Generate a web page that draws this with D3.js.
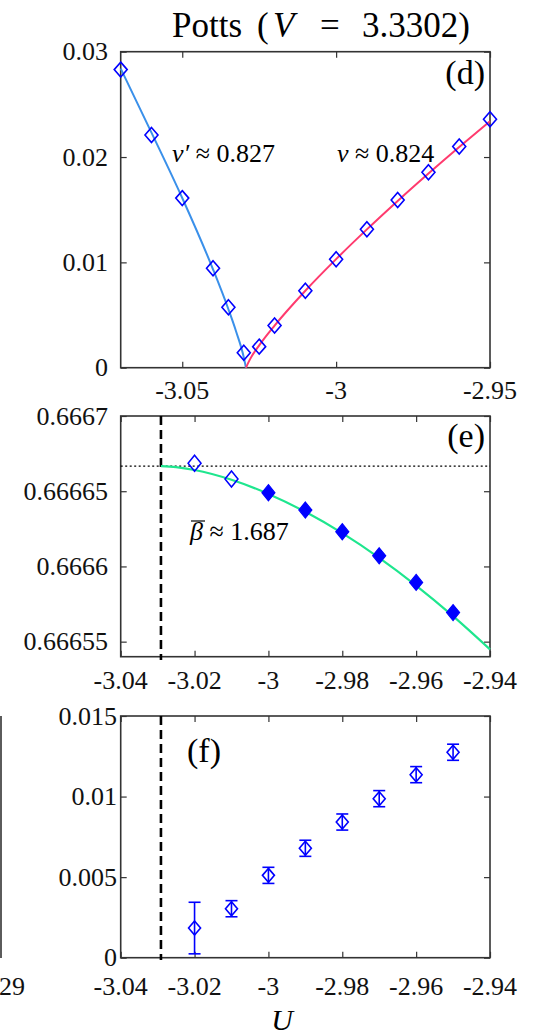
<!DOCTYPE html>
<html><head><meta charset="utf-8">
<script src="https://cdn.jsdelivr.net/npm/d3@7"></script>
<style>body{margin:0;background:#fff}svg{display:block}
svg text{font-family:"Liberation Serif","Times New Roman","DejaVu Serif",serif;}</style>
</head><body>
<script>
// ---------- data ----------
const titleText = "Potts";
const titleVar = "V";
const titleValue = "3.3302";
// panel (d)
const dU_left = [-3.07, -3.06, -3.05, -3.04, -3.035, -3.03];
const dV_left = [0.0283, 0.0221, 0.0161, 0.00944, 0.00574, 0.00142];
const dU_right = [-3.025, -3.02, -3.01, -3.0, -2.99, -2.98, -2.97, -2.96, -2.95];
const dV_right = [0.0020, 0.0040, 0.00731, 0.01029, 0.01314, 0.01593, 0.01855, 0.0210, 0.02359];
const fitLeftU = [-3.07, -3.06, -3.05, -3.04, -3.035, -3.0325, -3.03, -3.0293];
const fitLeftV = [0.0284, 0.02232, 0.01611, 0.00934, 0.00555, 0.00344, 0.00098, 0];
const fitRightU = [-3.0293, -3.028, -3.025, -3.02, -3.01, -3.0, -2.99, -2.98, -2.97, -2.96, -2.95];
const fitRightV = [0, 0.00079, 0.00212, 0.0040, 0.00731, 0.01031, 0.01313, 0.01583, 0.01843, 0.02095, 0.0234];
const dXTicks = [-3.05, -3, -2.95];
const dXLabels = ["-3.05", "-3", "-2.95"];
const dYTicks = [0, 0.01, 0.02, 0.03];
const dYLabels = ["0", "0.01", "0.02", "0.03"];
// panel (e)
const eU_open = [-3.02, -3.01];
const eV_open = [0.6666686, 0.6666581];
const eU_fill = [-3.0, -2.99, -2.98, -2.97, -2.96, -2.95];
const eV_fill = [0.666649, 0.6666375, 0.6666231, 0.6666071, 0.6665894, 0.6665693];
const eFitU = [-3.0291, -3.025, -3.02, -3.01, -3.0, -2.99, -2.98, -2.97, -2.96, -2.95, -2.94];
const eFitV = [0.6666667, 0.666666, 0.6666641, 0.6666576, 0.6666482, 0.6666363, 0.6666221, 0.6666057, 0.6665873, 0.666567, 0.6665449];
const eRef = 0.6666667;
const Uc = -3.0291;
const efXTicks = [-3.04, -3.02, -3.0, -2.98, -2.96, -2.94];
const efXLabels = ["-3.04", "-3.02", "-3", "-2.98", "-2.96", "-2.94"];
const eYTicks = [0.66655, 0.6666, 0.66665, 0.6667];
const eYLabels = ["0.66655", "0.6666", "0.66665", "0.6667"];
// panel (f)
const fU = [-3.02, -3.01, -3.0, -2.99, -2.98, -2.97, -2.96, -2.95];
const fV = [0.00184, 0.00304, 0.00511, 0.00679, 0.00842, 0.00987, 0.01136, 0.01275];
const fErr = [0.0016, 0.0005, 0.0005, 0.0005, 0.0005, 0.0005, 0.0005, 0.0005];
const fYTicks = [0, 0.005, 0.01, 0.015];
const fYLabels = ["0", "0.005", "0.01", "0.015"];

// ---------- drawing ----------
const W = 535, H = 1036;
const svg = d3.select("body").append("svg").attr("width", W).attr("height", H)
  .attr("font-family", "Liberation Serif, Times New Roman, DejaVu Serif, serif");

const X0 = 120.7, X1 = 490;
const FS = 26;
const axisColor = "#333";
const markerBlue = "#0000ff";

function frame(x, y, xt, xl, yt, yl, labelX, xLabelBaseline) {
  const g = svg.append("g");
  const [ya, yb] = y.range();
  const [xa, xb] = x.range();
  g.append("g").attr("transform", `translate(0,${ya})`).call(d3.axisBottom(x).tickValues(xt).tickSize(-6).tickFormat(""));
  g.append("g").attr("transform", `translate(0,${yb})`).call(d3.axisTop(x).tickValues(xt).tickSize(-6).tickFormat(""));
  g.append("g").attr("transform", `translate(${xa},0)`).call(d3.axisLeft(y).tickValues(yt).tickSize(-6).tickFormat(""));
  g.append("g").attr("transform", `translate(${xb},0)`).call(d3.axisRight(y).tickValues(yt).tickSize(-6).tickFormat(""));
  g.selectAll("path.domain").remove();
  g.selectAll("g text").remove();
  g.selectAll(".tick line").attr("stroke", axisColor).attr("stroke-width", 1.2);
  g.append("rect").attr("x", xa).attr("y", yb).attr("width", xb - xa).attr("height", ya - yb)
    .attr("fill", "none").attr("stroke", axisColor).attr("stroke-width", 1.6);
  g.selectAll(null).data(xt).enter().append("text")
    .attr("x", d => x(d)).attr("y", xLabelBaseline).attr("text-anchor", "middle")
    .attr("font-size", FS).attr("fill", "#111").text((d, i) => xl[i]);
  g.selectAll(null).data(yt).enter().append("text")
    .attr("x", labelX).attr("y", d => y(d)).attr("dy", "0.33em").attr("text-anchor", "end")
    .attr("font-size", FS).attr("fill", "#111").text((d, i) => yl[i]);
  return g;
}

function diamond(hw, hh) {
  return `M0,${-hh}L${hw},0L0,${hh}L${-hw},0Z`;
}

// ----- title -----
const tg = svg.append("g").attr("font-size", 35).attr("fill", "#000");
tg.append("text").attr("x", 172).attr("y", 37).text(titleText);
tg.append("text").attr("x", 257).attr("y", 37).text("(");
tg.append("text").attr("x", 273).attr("y", 37).attr("font-style", "italic").text(titleVar);
tg.append("text").attr("x", 320).attr("y", 37).text("=");
tg.append("text").attr("x", 362).attr("y", 37).text(titleValue + ")");

// ----- panel d -----
const xd = d3.scaleLinear().domain([-3.07, -2.95]).range([X0, X1]);
const yd = d3.scaleLinear().domain([0, 0.03]).range([367.7, 51.7]);
frame(xd, yd, dXTicks, dXLabels, dYTicks, dYLabels, 108, 399);
const lineD = d3.line().x(d => xd(d[0])).y(d => yd(d[1])).curve(d3.curveMonotoneX);
svg.append("path").datum(fitLeftU.map((u, i) => [u, fitLeftV[i]])).attr("d", lineD)
  .attr("fill", "none").attr("stroke", "#3a90ea").attr("stroke-width", 2);
svg.append("path").datum(fitRightU.map((u, i) => [u, fitRightV[i]])).attr("d", lineD)
  .attr("fill", "none").attr("stroke", "#ff3a6e").attr("stroke-width", 2);
const dPts = dU_left.map((u, i) => [u, dV_left[i]]).concat(dU_right.map((u, i) => [u, dV_right[i]]));
svg.selectAll(null).data(dPts).enter().append("path")
  .attr("transform", d => `translate(${xd(d[0])},${yd(d[1])})`)
  .attr("d", diamond(6.5, 7.5)).attr("fill", "none").attr("stroke", markerBlue).attr("stroke-width", 1.6);
svg.append("text").attr("x", 485).attr("y", 84).attr("text-anchor", "end").attr("font-size", 34).text("(d)");
const t1 = svg.append("text").attr("x", 172).attr("y", 162).attr("font-size", 26);
t1.append("tspan").attr("font-style", "italic").text("ν′");
t1.append("tspan").text(" ≈ 0.827");
const t2 = svg.append("text").attr("x", 337).attr("y", 162).attr("font-size", 26);
t2.append("tspan").attr("font-style", "italic").text("ν");
t2.append("tspan").text(" ≈ 0.824");

// ----- panel e -----
const xe = d3.scaleLinear().domain([-3.04, -2.94]).range([X0, X1]);
const ye = d3.scaleLinear().domain([0.66654, 0.6667]).range([656.7, 416]);
frame(xe, ye, efXTicks, efXLabels, eYTicks, eYLabels, 108, 689);
svg.append("line").attr("x1", X0).attr("x2", X1).attr("y1", ye(eRef)).attr("y2", ye(eRef))
  .attr("stroke", "#000").attr("stroke-width", 1.3).attr("stroke-dasharray", "2,2.5");
svg.append("line").attr("x1", xe(Uc)).attr("x2", xe(Uc)).attr("y1", 416).attr("y2", 660)
  .attr("stroke", "#000").attr("stroke-width", 2.6).attr("stroke-dasharray", "9,5");
const lineE = d3.line().x(d => xe(d[0])).y(d => ye(d[1])).curve(d3.curveMonotoneX);
svg.append("path").datum(eFitU.map((u, i) => [u, eFitV[i]])).attr("d", lineE)
  .attr("fill", "none").attr("stroke", "#1ee68e").attr("stroke-width", 2.2);
svg.selectAll(null).data(eU_open.map((u, i) => [u, eV_open[i]])).enter().append("path")
  .attr("transform", d => `translate(${xe(d[0])},${ye(d[1])})`)
  .attr("d", diamond(6.5, 8)).attr("fill", "none").attr("stroke", markerBlue).attr("stroke-width", 1.5);
svg.selectAll(null).data(eU_fill.map((u, i) => [u, eV_fill[i]])).enter().append("path")
  .attr("transform", d => `translate(${xe(d[0])},${ye(d[1])})`)
  .attr("d", diamond(6.5, 8)).attr("fill", markerBlue).attr("stroke", markerBlue).attr("stroke-width", 1.2);
svg.append("text").attr("x", 485).attr("y", 447).attr("text-anchor", "end").attr("font-size", 34).text("(e)");
const t3 = svg.append("text").attr("x", 190).attr("y", 540).attr("font-size", 26);
t3.append("tspan").attr("font-style", "italic").text("β");
t3.append("tspan").text(" ≈ 1.687");
svg.append("line").attr("x1", 191).attr("x2", 205).attr("y1", 521).attr("y2", 521)
  .attr("stroke", "#111").attr("stroke-width", 1.3);

// ----- panel f -----
const xf = d3.scaleLinear().domain([-3.04, -2.94]).range([X0, X1]);
const yf = d3.scaleLinear().domain([0, 0.015]).range([957.7, 716]);
frame(xf, yf, efXTicks, efXLabels, fYTicks, fYLabels, 117, 995);
svg.append("line").attr("x1", xf(Uc)).attr("x2", xf(Uc)).attr("y1", 716).attr("y2", 960)
  .attr("stroke", "#000").attr("stroke-width", 2.6).attr("stroke-dasharray", "9,5");
const fPts = fU.map((u, i) => ({u, v: fV[i], e: fErr[i]}));
const eb = svg.append("g").attr("stroke", markerBlue).attr("stroke-width", 1.6).attr("fill", "none");
fPts.forEach(p => {
  const cx = xf(p.u), top = yf(p.v + p.e), bot = yf(p.v - p.e);
  eb.append("line").attr("x1", cx).attr("x2", cx).attr("y1", top).attr("y2", bot);
  eb.append("line").attr("x1", cx - 6).attr("x2", cx + 6).attr("y1", top).attr("y2", top);
  eb.append("line").attr("x1", cx - 6).attr("x2", cx + 6).attr("y1", bot).attr("y2", bot);
  eb.append("path").attr("transform", `translate(${cx},${yf(p.v)})`).attr("d", diamond(6, 7));
});
svg.append("text").attr("x", 204).attr("y", 762).attr("text-anchor", "middle").attr("font-size", 34).text("(f)");
svg.append("text").attr("x", 282).attr("y", 1030).attr("text-anchor", "middle").attr("font-size", 30)
  .attr("font-style", "italic").text("U");

// neighbouring panel fragments at left edge
svg.append("line").attr("x1", 1).attr("x2", 1).attr("y1", 716).attr("y2", 958)
  .attr("stroke", axisColor).attr("stroke-width", 1.6);
svg.append("text").attr("x", -1).attr("y", 995).attr("font-size", FS).attr("fill", "#111").text("29");
</script>
</body></html>
